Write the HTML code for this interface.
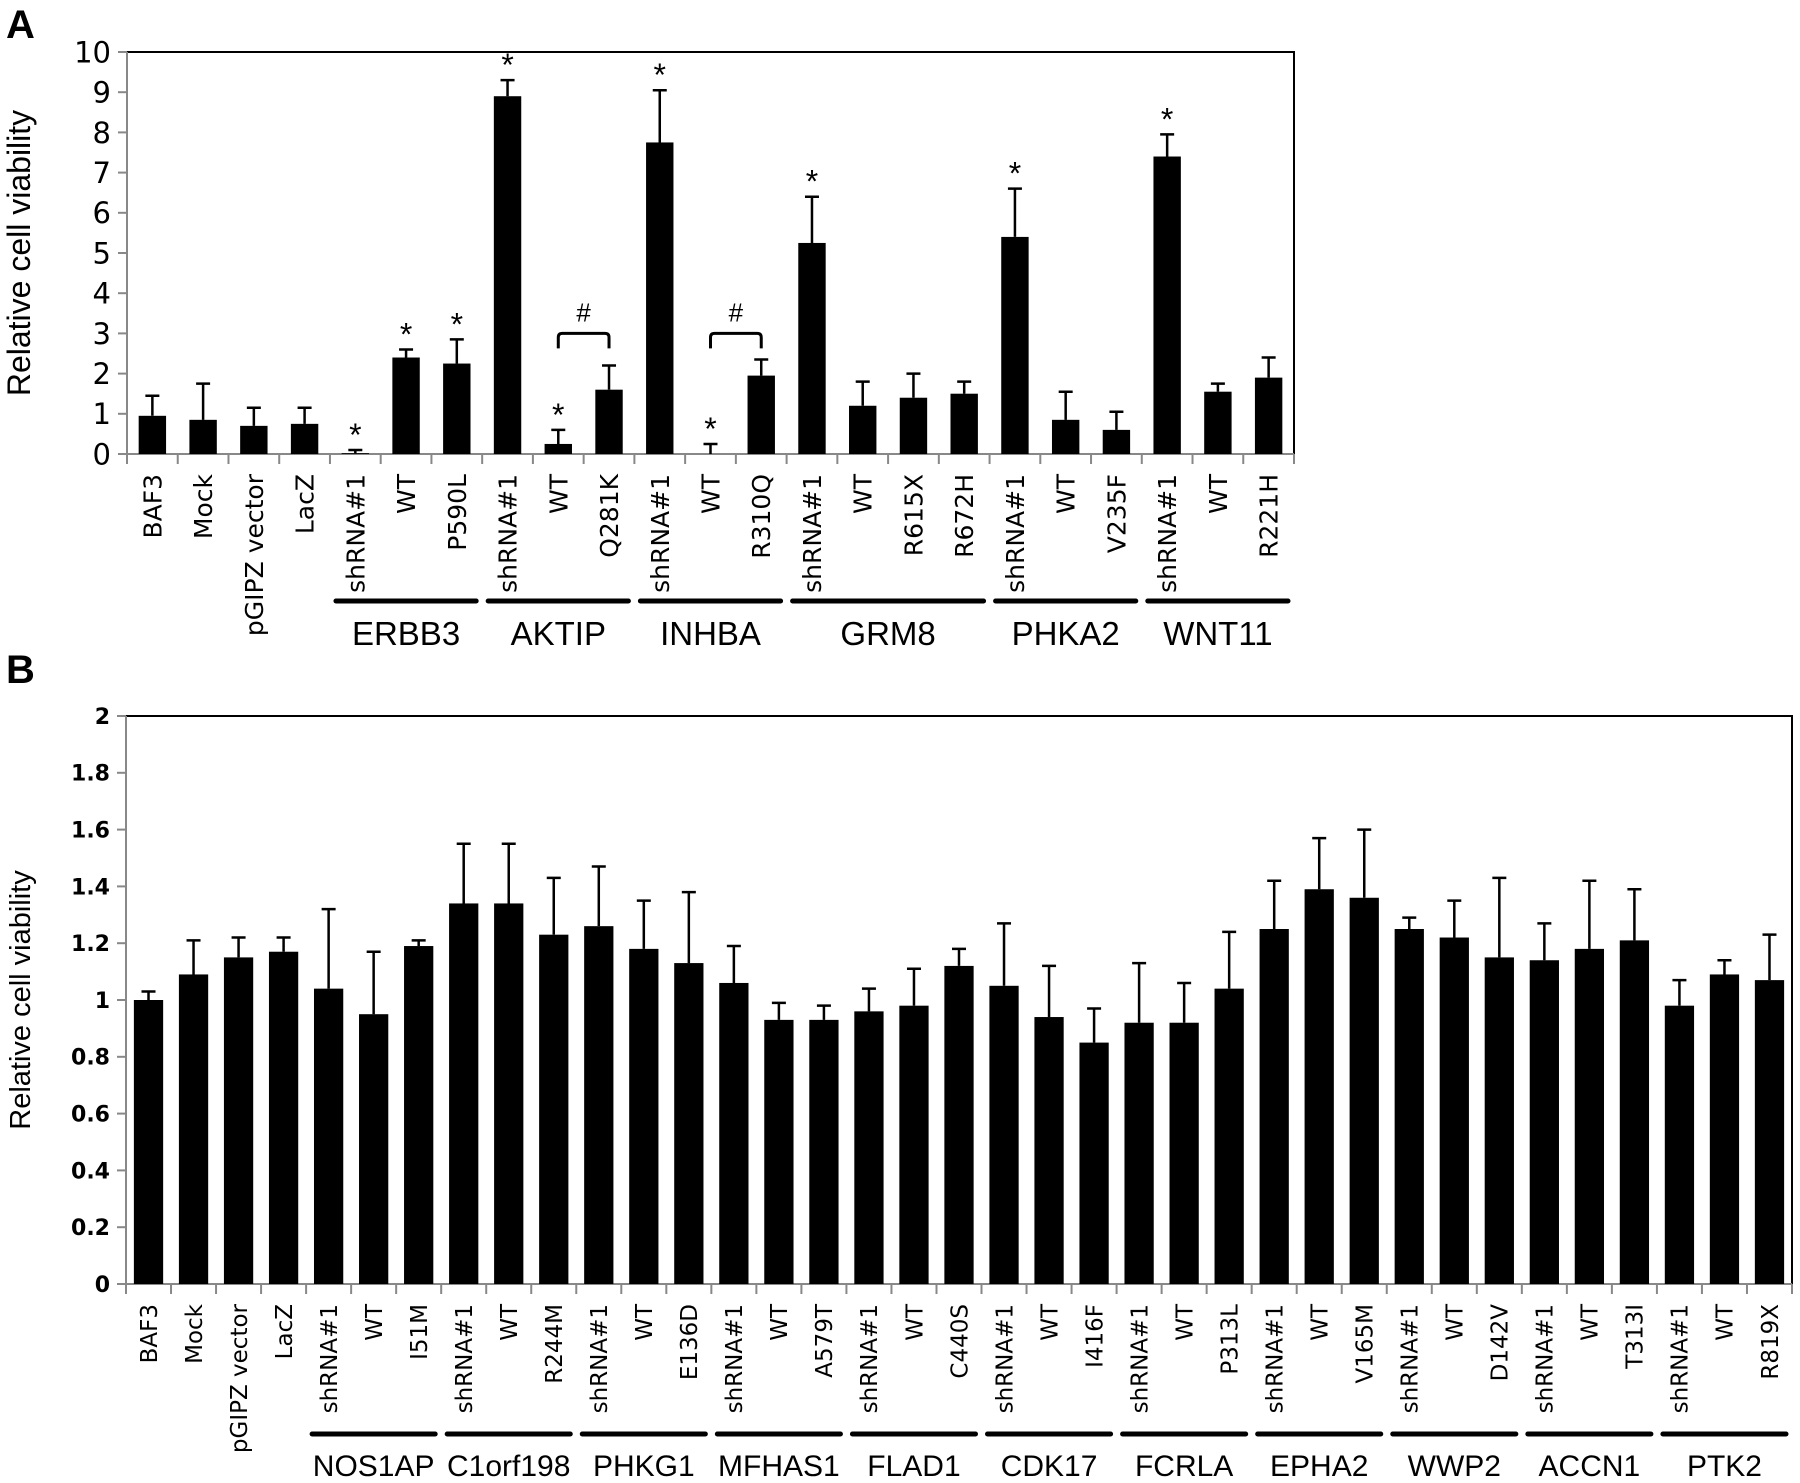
<!DOCTYPE html>
<html><head><meta charset="utf-8">
<style>
html,body{margin:0;padding:0;background:#fff;}
svg{display:block;}
text{fill:#000;}
</style></head>
<body>
<svg id="chart" width="1800" height="1483" viewBox="0 0 1800 1483" xmlns="http://www.w3.org/2000/svg">
<text x="6" y="38" font-family="Liberation Sans, sans-serif" font-weight="bold" font-size="40">A</text>
<text x="6" y="683" font-family="Liberation Sans, sans-serif" font-weight="bold" font-size="40">B</text>
<g id="panelA"></g>
<g id="panelB"></g>
</svg>
<script>
// Panel A data
const catsA = ["BAF3","Mock","pGIPZ vector","LacZ","shRNA#1","WT","P590L","shRNA#1","WT","Q281K","shRNA#1","WT","R310Q","shRNA#1","WT","R615X","R672H","shRNA#1","WT","V235F","shRNA#1","WT","R221H"];
const valsA = [0.95,0.85,0.7,0.75,0.02,2.4,2.25,8.9,0.25,1.6,7.75,0.0,1.95,5.25,1.2,1.4,1.5,5.4,0.85,0.6,7.4,1.55,1.9];
const errA  = [1.45,1.75,1.15,1.15,0.1,2.6,2.85,9.3,0.6,2.2,9.05,0.25,2.35,6.4,1.8,2.0,1.8,6.6,1.55,1.05,7.95,1.75,2.4];
const starA = [0,0,0,0,1,1,1,1,1,0,1,1,0,1,0,0,0,1,0,0,1,0,0];
const groupsA = ["ERBB3","AKTIP","INHBA","GRM8","PHKA2","WNT11"];
const groupStartA = [4,7,10,13,17,20];
const groupEndA = [6,9,12,16,19,22];
const bracketFromA = [8,11];
const bracketToA = [9,12];
const bracketValA = [3.0,3.0];
const ticksA = [0,1,2,3,4,5,6,7,8,9,10];

// Panel B data
const catsB = ["BAF3","Mock","pGIPZ vector","LacZ","shRNA#1","WT","I51M","shRNA#1","WT","R244M","shRNA#1","WT","E136D","shRNA#1","WT","A579T","shRNA#1","WT","C440S","shRNA#1","WT","I416F","shRNA#1","WT","P313L","shRNA#1","WT","V165M","shRNA#1","WT","D142V","shRNA#1","WT","T313I","shRNA#1","WT","R819X"];
const valsB = [1.0,1.09,1.15,1.17,1.04,0.95,1.19,1.34,1.34,1.23,1.26,1.18,1.13,1.06,0.93,0.93,0.96,0.98,1.12,1.05,0.94,0.85,0.92,0.92,1.04,1.25,1.39,1.36,1.25,1.22,1.15,1.14,1.18,1.21,0.98,1.09,1.07];
const errB  = [1.03,1.21,1.22,1.22,1.32,1.17,1.21,1.55,1.55,1.43,1.47,1.35,1.38,1.19,0.99,0.98,1.04,1.11,1.18,1.27,1.12,0.97,1.13,1.06,1.24,1.42,1.57,1.60,1.29,1.35,1.43,1.27,1.42,1.39,1.07,1.14,1.23];
const groupsB = ["NOS1AP","C1orf198","PHKG1","MFHAS1","FLAD1","CDK17","FCRLA","EPHA2","WWP2","ACCN1","PTK2"];
const ticksB = [0,0.2,0.4,0.6,0.8,1,1.2,1.4,1.6,1.8,2];
const tickLabelsB = ["0","0.2","0.4","0.6","0.8","1","1.2","1.4","1.6","1.8","2"];

const NS="http://www.w3.org/2000/svg";
function mk(parent,tag,attrs){const e=document.createElementNS(NS,tag);for(const k in attrs)e.setAttribute(k,attrs[k]);parent.appendChild(e);return e;}

function drawPanel(g,cfg){
  const L=cfg.left,R=cfg.right,T=cfg.top,B=cfg.bottom,n=cfg.cats.length,step=(R-L)/n;
  const y=v=>B-(v-cfg.min)/(cfg.max-cfg.min)*(B-T);
  const xc=i=>L+step*(i+0.5);
  let f=mk(g,'rect',{x:L,y:T,width:R-L,height:B-T,fill:'none',stroke:'#000','stroke-width':2});
  
  
  let ya=mk(g,'line',{x1:L,y1:T,x2:L,y2:B,stroke:'#888','stroke-width':2});
  
  
  let xa=mk(g,'line',{x1:L-9,y1:B,x2:R,y2:B,stroke:'#888','stroke-width':2});
  
  
  cfg.ticks.forEach((t,i)=>{
    let tl=mk(g,'line',{x1:L-9,y1:y(t),x2:L,y2:y(t),stroke:'#888','stroke-width':2});
    
    
    let tx=mk(g,'text',{x:L-16,y:y(t)+cfg.tickFs*0.36,'text-anchor':'end','font-family':cfg.tickFont,'font-size':cfg.tickFs,'font-weight':cfg.tickWeight});
    tx.textContent=cfg.tickLabels[i];
    
    
  });
  for(let i=0;i<=n;i++){
    let xt=mk(g,'line',{x1:L+step*i,y1:B,x2:L+step*i,y2:B+10,stroke:'#888','stroke-width':2});
    
    
  }
  const bw=step*cfg.bwFrac;
  cfg.vals.forEach((v,i)=>{
    const cx=xc(i);
    let eb=mk(g,'path',{d:`M${cx},${y(v)}V${y(cfg.err[i])}M${cx-7},${y(cfg.err[i])}H${cx+7}`,stroke:'#000','stroke-width':2.5,fill:'none'});
    
    
    let r=mk(g,'rect',{x:cx-bw/2,y:y(v),width:bw,height:B-y(v),fill:'#000'});
    
    
    if(cfg.stars&&cfg.stars[i]){
      let s=mk(g,'text',{x:cx,y:y(cfg.err[i])-4,'text-anchor':'middle','font-family':'Liberation Sans, sans-serif','font-size':32});
      s.textContent='*';
      
      
    }
    let lb=mk(g,'text',{transform:`translate(${cx+cfg.labFs*0.36},${cfg.labTop}) rotate(-90)`,'text-anchor':'end','font-family':'DejaVu Sans, sans-serif','font-size':cfg.labFs});
    lb.textContent=cfg.cats[i];
    
    
  });
  cfg.groups.forEach((gname,k)=>{
    const s=cfg.gs[k],e=cfg.ge[k];
    let ln=mk(g,'line',{x1:L+step*s+6,y1:cfg.gLineY,x2:L+step*(e+1)-6,y2:cfg.gLineY,stroke:'#000','stroke-width':5,'stroke-linecap':'round'});
    
    
    let gt=mk(g,'text',{x:(L+step*s+L+step*(e+1))/2,y:cfg.gLabY,'text-anchor':'middle','font-family':'Liberation Sans, sans-serif','font-size':cfg.gFs});
    gt.textContent=gname;
    
    
  });
  if(cfg.brFrom){
    cfg.brFrom.forEach((a,k)=>{
      const x1=xc(a),x2=xc(cfg.brTo[k]),yy=y(cfg.brVal[k]);
      let p=mk(g,'path',{d:`M${x1},${yy+15}V${yy+4}Q${x1},${yy} ${x1+4},${yy}H${x2-4}Q${x2},${yy} ${x2},${yy+4}V${yy+15}`,stroke:'#000','stroke-width':3,fill:'none'});
      
      
      let h=mk(g,'text',{x:(x1+x2)/2,y:yy-12,'text-anchor':'middle','font-family':'Liberation Sans, sans-serif','font-size':26});
      h.textContent='#';
      
      
    });
  }
  let yt=mk(g,'text',{transform:`translate(${cfg.ytX},${(T+B)/2}) rotate(-90)`,'text-anchor':'middle','font-family':'Liberation Sans, sans-serif','font-size':cfg.ytFs});
  yt.textContent='Relative cell viability';
  
  
}

const gsB=[],geB=[];
for(let k=0;k<groupsB.length;k++){gsB.push(4+3*k);geB.push(6+3*k);}

drawPanel(document.getElementById('panelA'),{
  left:127,right:1294,top:52,bottom:454,min:0,max:10,
  cats:catsA,vals:valsA,err:errA,stars:starA,ticks:ticksA,tickLabels:ticksA.map(String),
  tickFont:'DejaVu Sans, sans-serif',tickFs:29,tickWeight:'normal',bwFrac:0.54,
  labTop:474,labFs:25,groups:groupsA,gs:groupStartA,ge:groupEndA,gLineY:601,gLabY:645,gFs:33,
  brFrom:bracketFromA,brTo:bracketToA,brVal:bracketValA,ytX:30,ytFs:32
});
drawPanel(document.getElementById('panelB'),{
  left:126,right:1792,top:716,bottom:1284,min:0,max:2,
  cats:catsB,vals:valsB,err:errB,stars:null,ticks:ticksB,tickLabels:tickLabelsB,
  tickFont:'DejaVu Sans, sans-serif',tickFs:22,tickWeight:'bold',bwFrac:0.65,
  labTop:1304,labFs:23,groups:groupsB,gs:gsB,ge:geB,gLineY:1434,gLabY:1476,gFs:30,
  brFrom:null,ytX:30,ytFs:29
});
</script>
</body></html>
